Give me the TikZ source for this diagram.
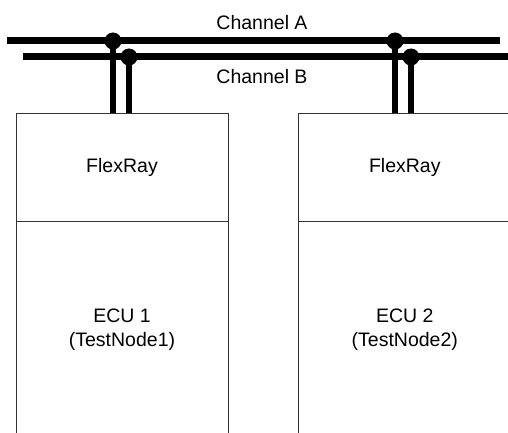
\documentclass[tikz,border=0pt]{standalone}
\usepackage{fontspec}
\setmainfont{Liberation Sans}
\usetikzlibrary{positioning}
\newcommand{\boxwidth}{212pt}
\newcommand{\frheight}{108pt}
\newcommand{\ecuheight}{215pt}
\tikzstyle{frbox}=[draw=black!80,line width=0.8pt,shape=rectangle,
                   minimum width=\boxwidth,minimum height=\frheight,inner sep=0pt]
\tikzstyle{ecubox}=[draw=black!80,line width=0.8pt,shape=rectangle,
                    minimum width=\boxwidth,minimum height=\ecuheight,inner sep=0pt,
                    align=center]
\tikzstyle{label}=[fill=none,text=black,draw=none]
\tikzstyle{bus}=[line width=7pt,black]
\tikzstyle{stub}=[line width=6pt,black]
\tikzstyle{tap}=[fill=black,draw=none,shape=circle,inner sep=0pt,minimum size=17pt]

\begin{document}
\begin{tikzpicture}[x=1pt,y=-1pt,font=\fontsize{19.5}{24}\selectfont]
\clip (0,0) rectangle (508,433);

\node [frbox] (fr1) at (122,167) {FlexRay};
\node [ecubox, below= 0pt of fr1] (ecu1) {ECU 1\\(TestNode1)};
\node [frbox, right= 70pt of fr1] (fr2) {FlexRay};
\node [ecubox, below= 0pt of fr2] (ecu2) {ECU 2\\(TestNode2)};

% the two bus channels
\coordinate (aW) at (7,41);
\coordinate (aE) at (500,41);
\coordinate (bW) at (23,57);
\coordinate (bE) at (512,57);
\draw [bus] (aW) -- (aE);
\draw [bus] (bW) -- (bE);
\node [label] (chA) at (262,23) {Channel A};
\node [label] (chB) at (262,77) {Channel B};

\node [tap] (tA1) at (113,41) {};
\node [tap] (tB1) at (129,57) {};
\node [tap] (tA2) at (395,41) {};
\node [tap] (tB2) at (411,57) {};

\draw [stub] (tA1.center) -- (tA1 |- fr1.north);
\draw [stub] (tB1.center) -- (tB1 |- fr1.north);
\draw [stub] (tA2.center) -- (tA2 |- fr2.north);
\draw [stub] (tB2.center) -- (tB2 |- fr2.north);
\end{tikzpicture}
\end{document}
